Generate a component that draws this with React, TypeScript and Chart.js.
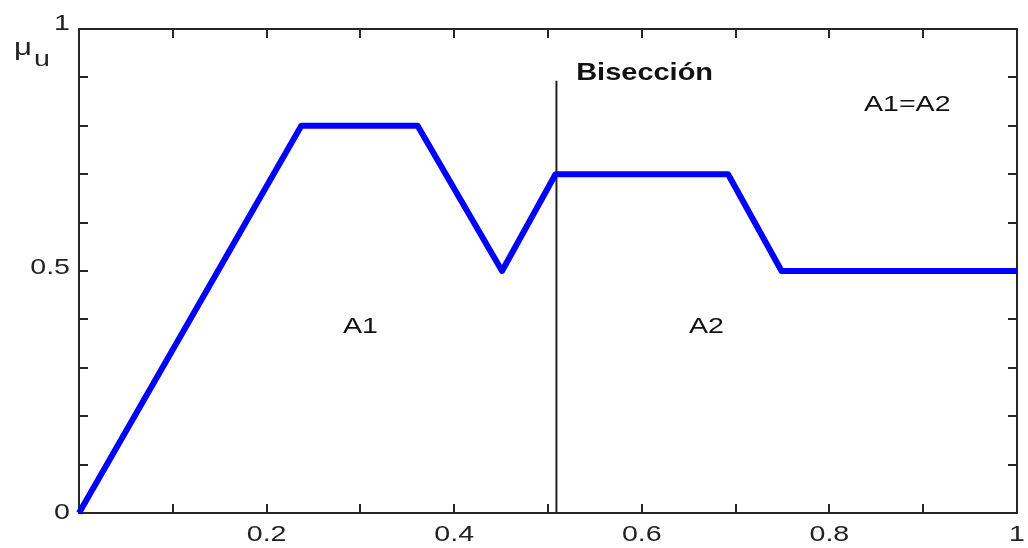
import React, { useEffect, useRef } from "react";
import { Chart, registerables } from "chart.js";

Chart.register(...registerables);

// Membership curve (x in universe, mu value)
const curveX = [0, 0.237, 0.361, 0.451, 0.508, 0.692, 0.749, 1];
const curveMu = [0, 0.8, 0.8, 0.5, 0.7, 0.7, 0.5, 0.5];

// Bisection line
const bisectionX = [0.509, 0.509];
const bisectionY = [0, 0.893];

// Tick positions and labels
const xTickValues = [0, 0.1, 0.2, 0.3, 0.4, 0.5, 0.6, 0.7, 0.8, 0.9, 1];
const xTickLabels = ["", "", "0.2", "", "0.4", "", "0.6", "", "0.8", "", "1"];
const yTickValues = [0, 0.1, 0.2, 0.3, 0.4, 0.5, 0.6, 0.7, 0.8, 0.9, 1];
const yTickLabels = ["0", "", "", "", "", "0.5", "", "", "", "", "1"];

// Annotations: text, x, y (data coords)
const annotationTexts = ["Bisección", "A1=A2", "A1", "A2"];
const annotationX = [0.603, 0.883, 0.3, 0.669];
const annotationY = [0.907, 0.843, 0.384, 0.384];
const annotationBold = [true, false, false, false];

const FONT = '"Liberation Sans", Arial, sans-serif';
const STRETCH = 1.3;

function drawText(
  ctx: CanvasRenderingContext2D,
  text: string,
  x: number,
  y: number,
  font: string,
  align: CanvasTextAlign,
  sx: number
) {
  ctx.save();
  ctx.translate(x, y);
  ctx.scale(sx, 1);
  ctx.font = font;
  ctx.textAlign = align;
  ctx.textBaseline = "middle";
  ctx.fillText(text, 0, 0);
  ctx.restore();
}

const framePlugin = {
  id: "matlabFrame",
  beforeDatasetsDraw(chart: any) {
    const { ctx, chartArea, scales } = chart;
    const { left, right, top, bottom } = chartArea;
    const xs = scales.x;
    const ys = scales.y;
    ctx.save();
    ctx.strokeStyle = "#262626";
    ctx.lineWidth = 2;
    ctx.strokeRect(left, top, right - left, bottom - top);
    ctx.lineWidth = 2;
    const tl = 9;
    ctx.beginPath();
    xTickValues.forEach((v) => {
      const px = Math.round(xs.getPixelForValue(v));
      ctx.moveTo(px, bottom);
      ctx.lineTo(px, bottom - tl);
      ctx.moveTo(px, top);
      ctx.lineTo(px, top + tl);
    });
    yTickValues.forEach((v) => {
      const py = Math.round(ys.getPixelForValue(v));
      ctx.moveTo(left, py);
      ctx.lineTo(left + tl, py);
      ctx.moveTo(right, py);
      ctx.lineTo(right - tl, py);
    });
    ctx.stroke();

    ctx.fillStyle = "#222";
    xTickValues.forEach((v, i) => {
      if (!xTickLabels[i]) return;
      drawText(ctx, xTickLabels[i], xs.getPixelForValue(v), bottom + 22, `22px ${FONT}`, "center", STRETCH);
    });
    yTickValues.forEach((v, i) => {
      if (!yTickLabels[i]) return;
      let py = ys.getPixelForValue(v);
      if (v === 1) py -= 5;
      if (v === 0.5) py -= 3;
      drawText(ctx, yTickLabels[i], left - 9, py, `22px ${FONT}`, "right", STRETCH);
    });

    // axis label mu_u
    drawText(ctx, "\u03bc", 14, 48, `24px ${FONT}`, "left", STRETCH);
    drawText(ctx, "u", 34, 60, `22px ${FONT}`, "left", STRETCH);
    ctx.restore();
  },
  afterDatasetsDraw(chart: any) {
    const { ctx, scales } = chart;
    ctx.save();
    ctx.fillStyle = "#111";
    annotationTexts.forEach((t, i) => {
      const px = scales.x.getPixelForValue(annotationX[i]);
      const py = scales.y.getPixelForValue(annotationY[i]);
      if (annotationBold[i]) {
        drawText(ctx, t, px, py, `bold 23px ${FONT}`, "center", 1.26);
      } else {
        drawText(ctx, t, px, py, `22px ${FONT}`, "center", STRETCH);
      }
    });
    ctx.restore();
  },
};

export default function App() {
  const ref = useRef<HTMLCanvasElement | null>(null);
  useEffect(() => {
    if (!ref.current) return;
    const chart = new Chart(ref.current, {
      type: "line",
      data: {
        datasets: [
          {
            label: "mu",
            data: curveX.map((x, i) => ({ x, y: curveMu[i] })),
            borderColor: "#0000ff",
            borderWidth: 6,
            pointRadius: 0,
            tension: 0,
            fill: false,
            borderJoinStyle: "round",
            clip: 4,
          },
          {
            label: "Bisección",
            data: bisectionX.map((x, i) => ({ x, y: bisectionY[i] })),
            borderColor: "#222",
            borderWidth: 2,
            pointRadius: 0,
            fill: false,
          },
        ],
      },
      options: {
        animation: false,
        responsive: false,
        devicePixelRatio: 1,
        layout: { padding: { left: 79, top: 29, right: 11, bottom: 35 } },
        plugins: { legend: { display: false }, tooltip: { enabled: false } },
        scales: {
          x: { type: "linear", min: 0, max: 1, display: false },
          y: { type: "linear", min: 0, max: 1, display: false },
        },
      },
      plugins: [framePlugin],
    } as any);
    return () => chart.destroy();
  }, []);
  return (
    <div style={{ position: "absolute", left: 0, top: 0, width: 1028, height: 548, background: "#fff" }}>
      <canvas ref={ref} width={1028} height={548} style={{ display: "block" }} />
    </div>
  );
}
